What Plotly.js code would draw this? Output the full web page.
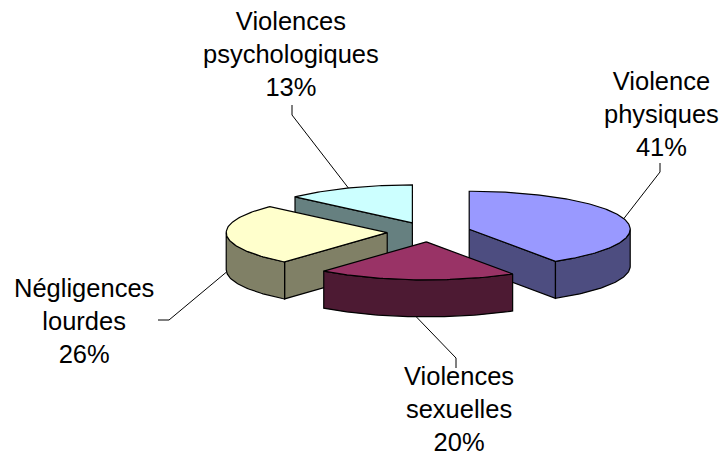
<!DOCTYPE html>
<html>
<head>
<meta charset="utf-8">
<script src="https://cdn.plot.ly/plotly-3.0.1.min.js"></script>
<style>html,body{margin:0;padding:0;background:#fff}#chart{width:722px;height:456px}</style>
</head>
<body>
<div id="chart"></div>
<script>
// ---- data ----
const categories = ['Violence physiques', 'Violences sexuelles', 'Négligences lourdes', 'Violences psychologiques'];
const labelLines = ['Violence<br>physiques', 'Violences<br>sexuelles', 'Négligences<br>lourdes', 'Violences<br>psychologiques'];
const values = [41, 20, 26, 13];

// ---- styles / layout constants ----
const topColors  = ['#9999FF', '#993366', '#FFFFCC', '#CCFFFF'];
const sideColors = ['#4D4D80', '#4D1A33', '#808066', '#668080'];
const CX = 429, CY = 232;      // pie centre (px)
const RX = 161, RY = 38;       // ellipse radii of top face
const DEPTH = 37;              // thickness
const EXPLODE = 0.26;          // explosion as a fraction of the radius
const FONT = {family: 'Liberation Sans, Arial, sans-serif', size: 25.5, color: '#000'};
// label text block centres and leader-line bend/end points
const labelPos = [
  {x: 661, y: 114, bend: [660, 172], end: [660, 163]},
  {x: 459, y: 409, bend: [456, 358], end: [456, 368]},
  {x: 84,  y: 321, bend: [169, 320], end: [158, 320]},
  {x: 291, y: 54,  bend: [292, 115], end: [292, 105]}
];

const rad = d => d * Math.PI / 180;
function pt(cx, cy, th, dy) { return [cx + RX * Math.sin(rad(th)), cy - RY * Math.cos(rad(th)) + (dy || 0)]; }
function arc(cx, cy, t0, t1, dy) {
  const pts = [];
  const n = Math.max(2, Math.ceil(Math.abs(t1 - t0)));
  for (let i = 0; i <= n; i++) pts.push(pt(cx, cy, t0 + (t1 - t0) * i / n, dy));
  return pts;
}
function poly(pts, fill) {
  return {
    type: 'scatter', mode: 'lines', fill: 'toself', fillcolor: fill,
    x: pts.map(p => p[0]), y: pts.map(p => p[1]),
    line: {color: '#000', width: 1.2}, hoverinfo: 'skip', showlegend: false
  };
}

const total = values.reduce((a, b) => a + b, 0);
let cum = 0;
const slices = values.map((v, i) => {
  const a0 = cum / total * 360; cum += v; const a1 = cum / total * 360;
  const mid = (a0 + a1) / 2;
  const cx = CX + EXPLODE * RX * Math.sin(rad(mid));
  const cy = CY - EXPLODE * RY * Math.cos(rad(mid));
  return {i, a0, a1, mid, cx, cy};
});

const traces = [];
slices.slice().sort((a, b) => a.cy - b.cy).forEach(s => {
  const side = sideColors[s.i], top = topColors[s.i];
  // radial walls
  if (Math.sin(rad(s.a0)) < -1e-6) {
    const r = pt(s.cx, s.cy, s.a0);
    traces.push(poly([[s.cx, s.cy], r, [r[0], r[1] + DEPTH], [s.cx, s.cy + DEPTH], [s.cx, s.cy]], side));
  }
  if (Math.sin(rad(s.a1)) > 1e-6) {
    const r = pt(s.cx, s.cy, s.a1);
    traces.push(poly([[s.cx, s.cy], r, [r[0], r[1] + DEPTH], [s.cx, s.cy + DEPTH], [s.cx, s.cy]], side));
  }
  // outer wall (front half only)
  const t0 = Math.max(s.a0, 90), t1 = Math.min(s.a1, 270);
  if (t1 > t0) {
    const up = arc(s.cx, s.cy, t0, t1, 0);
    const dn = arc(s.cx, s.cy, t1, t0, DEPTH);
    traces.push(poly(up.concat(dn, [up[0]]), side));
  }
  // top face
  const face = [[s.cx, s.cy]].concat(arc(s.cx, s.cy, s.a0, s.a1, 0), [[s.cx, s.cy]]);
  traces.push(poly(face, top));
});

// leader lines
slices.forEach(s => {
  const front = Math.cos(rad(s.mid)) < 0;
  const start = pt(s.cx, s.cy, s.mid, front ? DEPTH : 0);
  const L = labelPos[s.i];
  traces.push({
    type: 'scatter', mode: 'lines', x: [start[0], L.bend[0], L.end[0]], y: [start[1], L.bend[1], L.end[1]],
    line: {color: '#000', width: 1}, hoverinfo: 'skip', showlegend: false
  });
});

const annotations = slices.map(s => ({
  x: labelPos[s.i].x, y: labelPos[s.i].y, xref: 'x', yref: 'y',
  text: labelLines[s.i] + '<br>' + Math.round(values[s.i] / total * 100) + '%',
  showarrow: false, font: FONT, align: 'center', xanchor: 'center', yanchor: 'middle'
}));

Plotly.newPlot('chart', traces, {
  width: 722, height: 456,
  margin: {l: 0, r: 0, t: 0, b: 0},
  paper_bgcolor: '#fff', plot_bgcolor: '#fff',
  xaxis: {range: [0, 722], visible: false, fixedrange: true},
  yaxis: {range: [456, 0], visible: false, fixedrange: true},
  annotations: annotations,
  showlegend: false
}, {displayModeBar: false, staticPlot: true});
</script>
</body>
</html>
